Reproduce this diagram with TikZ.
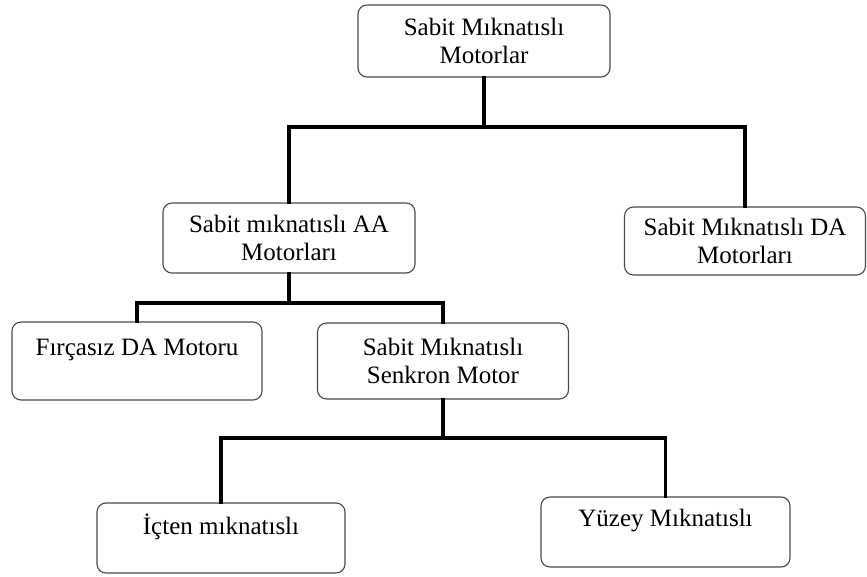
\documentclass[tikz,border=0pt]{standalone}
\usepackage{fontspec}
\setmainfont{Liberation Serif}
\usepackage{tikz}
\usetikzlibrary{positioning, calc}
\definecolor{BoxEdge}{HTML}{4A4A4A}

\begin{document}
\begin{tikzpicture}[x=1pt, y=-1pt,
        mbox/.style={draw=BoxEdge, line width=1.1pt, rounded corners=9pt, fill=white,
            align=center, inner sep=0pt, font=\fontsize{25}{28}\selectfont},
        branch/.style={line width=3.3pt, color=black, line cap=rect}]
        % Fixed frame, same proportions as the page
        \useasboundingbox (0,0) rectangle (867,577);

        % Top level
        \node[mbox, minimum width=252pt, minimum height=72pt] (pm) at (484,41)
            {Sabit Mıknatıslı\\Motorlar};

        % Second level
        \node[mbox, minimum width=252pt, minimum height=70pt] (pmac) at (289,238)
            {Sabit mıknatıslı AA\\Motorları};
        \node[mbox, minimum width=241pt, minimum height=68pt] (pmdc) at (745,241)
            {Sabit Mıknatıslı DA\\Motorları};

        % Third level
        \node[mbox, minimum width=250pt, minimum height=78pt] (bldc) at (137,361)
            {Fırçasız DA Motoru\\\mbox{}};
        \node[mbox, minimum width=251pt, minimum height=76pt] (pmsm) at (443,361)
            {Sabit Mıknatıslı\\Senkron Motor};

        % Fourth level
        \node[mbox, minimum width=248pt, minimum height=70pt] (ipm) at (221,538)
            {İçten mıknatıslı\\\mbox{}};
        \node[mbox, minimum width=249pt, minimum height=70pt] (spm) at (665.5,532)
            {Yüzey Mıknatıslı\\\mbox{}};

        % Branch joints
        \coordinate (j1) at (484,127);
        \coordinate (j2) at (289,303);
        \coordinate (j3) at (443,438);

        % Tree connectors
        \draw[branch] (pm.south) -- (j1);
        \draw[branch] (pmac.north) |- (j1) -| (pmdc.north);
        \draw[branch] (pmac.south) -- (j2);
        \draw[branch] (bldc.north) |- (j2) -| (pmsm.north);
        \draw[branch] (pmsm.south) -- (j3);
        \draw[branch] (ipm.north) |- (j3) -| (spm.north);
    \end{tikzpicture}
\end{document}
